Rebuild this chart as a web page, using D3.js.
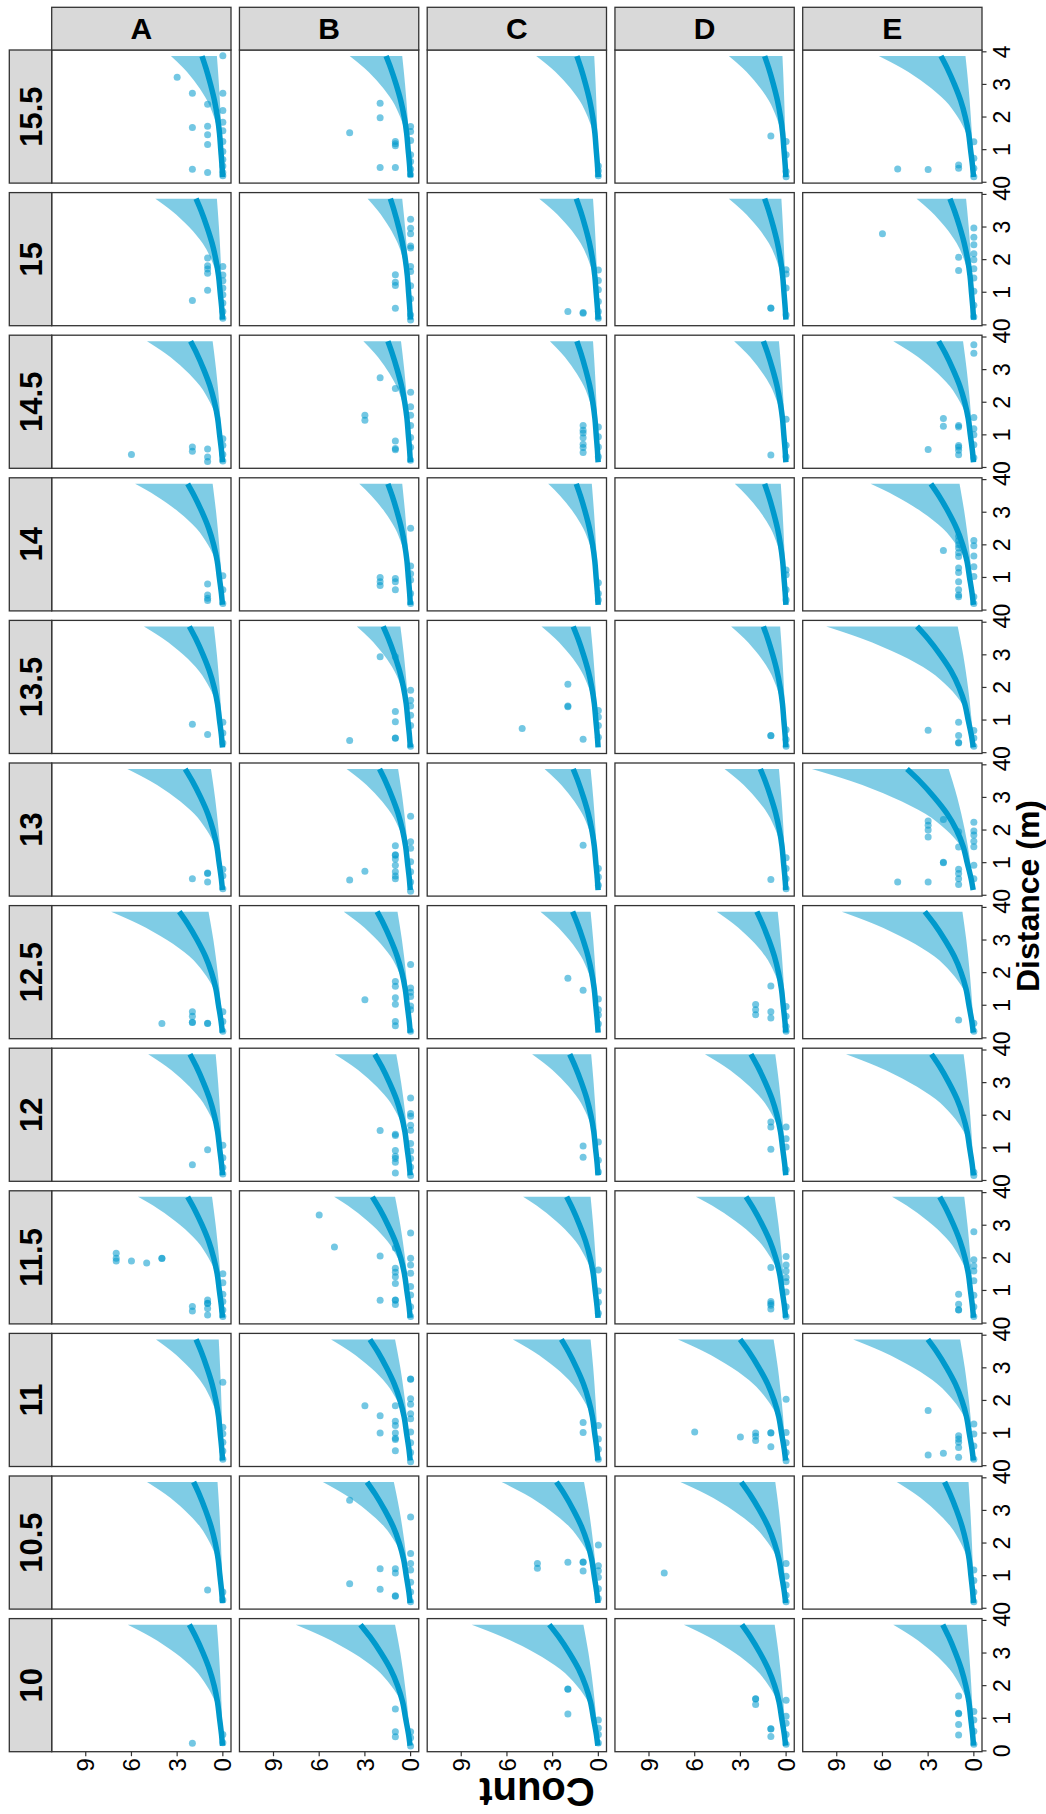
<!DOCTYPE html>
<html>
<head>
<meta charset="utf-8">
<script src="https://cdn.jsdelivr.net/npm/d3@7"></script>
<style>
  body { margin: 0; background: #fff; }
  svg { display: block; }
  text { font-family: "Liberation Sans", Arial, Helvetica, sans-serif; fill: #000; }
</style>
</head>
<body>
<div id="chart"></div>
<script>
// facet labels
const distFacets = ["10", "10.5", "11", "11.5", "12", "12.5", "13", "13.5", "14", "14.5", "15", "15.5"];
const groups = ["A", "B", "C", "D", "E"];
const countTicks = [0, 3, 6, 9];
const distTicks = [0, 1, 2, 3, 4];

// relative shape of the smooth and its band (fraction of value at max distance)
const shapeDist = [0.16, 0.5, 1, 1.5, 2, 2.5, 3, 3.5, 3.87];
const fitRel = [0.01, 0.04, 0.10, 0.16, 0.26, 0.40, 0.59, 0.81, 1];
const lowRel = [0.01, 0.05, 0.14, 0.24, 0.36, 0.50, 0.66, 0.85, 1];
const highRel = [0.002, 0.01, 0.035, 0.08, 0.17, 0.30, 0.50, 0.76, 1];

// fitted value / lower / upper CI at max distance, rows = groups, cols = distFacets
const fitEnd = [
  [2.2, 1.92, 1.76, 2.31, 2.16, 2.86, 2.47, 2.2, 2.31, 2.12, 1.76, 1.37],
  [3.29, 2.86, 2.67, 2.51, 2.35, 2.2, 2.04, 1.8, 1.49, 1.49, 1.33, 1.61],
  [3.22, 2.75, 2.43, 2.08, 1.88, 1.69, 1.65, 1.65, 1.45, 1.41, 1.45, 1.41],
  [2.9, 2.94, 3.02, 2.63, 2.31, 1.92, 1.69, 1.49, 1.41, 1.49, 1.41, 1.41],
  [2.04, 1.92, 3.02, 2.24, 2.78, 3.22, 4.39, 3.73, 2.82, 2.31, 1.57, 2.16]
];
const lowEnd = [
  [0.39, 0.35, 0.27, 0.71, 0.47, 0.94, 0.78, 0.59, 0.67, 0.67, 0.39, 0.39],
  [1.02, 1.1, 1.02, 1.02, 0.94, 0.86, 0.82, 0.67, 0.55, 0.63, 0.55, 0.55],
  [0.98, 0.94, 0.51, 0.51, 0.47, 0.51, 0.51, 0.51, 0.43, 0.35, 0.35, 0.27],
  [0.75, 0.71, 0.82, 0.75, 0.71, 0.55, 0.47, 0.39, 0.35, 0.47, 0.31, 0.24],
  [0.47, 0.35, 0.9, 0.63, 0.67, 0.75, 1.65, 1.06, 0.94, 0.71, 0.51, 0.55]
];
const highEnd = [
  [6.24, 4.98, 4.39, 5.57, 4.9, 7.33, 6.27, 5.18, 5.76, 4.98, 4.43, 3.41],
  [7.53, 5.76, 5.22, 5.02, 4.98, 4.39, 4.2, 3.53, 3.37, 3.1, 2.82, 4.0],
  [8.31, 6.35, 5.61, 4.94, 4.35, 3.8, 3.53, 3.73, 3.29, 3.18, 3.88, 4.08],
  [6.71, 6.94, 7.1, 5.92, 5.33, 4.55, 4.04, 3.61, 3.37, 3.41, 3.76, 3.76],
  [5.29, 5.06, 7.92, 5.37, 8.39, 8.67, 10.63, 9.69, 6.78, 5.29, 3.76, 6.24]
];

// observations [distance, count], one list per distFacet
const obsA = [
  [[0.23,2],[0.5,0],[0.25,0]],
  [[0.56,1],[0.5,0],[0.25,0]],
  [[2.56,0],[1.18,0],[0.98,0],[0.72,0],[0.45,0],[0.2,0]],
  [[2.14,7],[1.99,7],[1.9,7],[1.9,6],[1.84,5],[1.98,4],[1.99,4],[1.51,0],[1.24,0],[0.88,0],[0.66,0],[0.51,2],[0.37,2],[0.71,1],[0.6,1],[0.61,1],[0.45,1],[0.25,1],[0.4,0],[0.2,0]],
  [[0.94,1],[0.48,2],[1.08,0],[0.7,0],[0.4,0],[0.2,0]],
  [[0.44,4],[0.8,2],[0.66,2],[0.47,2],[0.48,2],[0.44,1],[0.45,1],[0.8,0],[0.5,0],[0.2,0]],
  [[0.51,2],[0.67,1],[0.68,1],[0.41,1],[0.8,0],[0.6,0],[0.2,0]],
  [[0.87,2],[0.56,1],[0.93,0],[0.6,0],[0.3,0]],
  [[0.8,1],[0.46,1],[0.36,1],[0.29,1],[1.05,0],[0.62,0],[0.2,0]],
  [[0.4,6],[0.63,2],[0.5,2],[0.57,1],[0.32,1],[0.18,1],[0.88,0],[0.68,0],[0.4,0],[0.2,0]],
  [[2.05,1],[1.81,1],[1.71,1],[1.58,1],[1.79,0],[1.53,0],[1.35,0],[1.13,0],[1.06,1],[0.92,0],[0.75,2],[0.67,0],[0.41,0],[0.2,0]],
  [[3.88,0],[3.22,3],[2.73,2],[2.73,0],[2.39,1],[2.2,0],[1.84,0],[1.68,2],[1.72,1],[1.58,0],[1.46,1],[1.25,0],[1.16,1],[0.94,0],[0.7,0],[0.5,0],[0.4,2],[0.3,1],[0.3,0],[0.2,0]]
];
const obsB = [
  [[1.28,1],[0.59,1],[0.43,1],[0.59,0],[0.4,0],[0.15,0]],
  [[3.31,4],[2.8,0],[1.68,0],[1.37,0],[1.21,2],[1.21,1],[1.08,1],[0.75,4],[0.58,2],[0.37,1],[0.38,1],[1.17,0],[0.8,0],[0.5,0],[0.2,0]],
  [[2.65,0],[2.66,0],[1.84,3],[1.53,2],[1.84,1],[2.05,0],[1.88,0],[1.59,0],[1.44,0],[1.36,1],[1.23,1],[1.0,2],[1.0,1],[0.84,1],[0.8,1],[0.46,1],[1.03,0],[0.7,0],[0.4,0],[0.12,0]],
  [[3.31,6],[2.33,5],[2.06,2],[2.3,1],[2.76,0],[1.99,0],[1.78,0],[1.53,0],[1.68,1],[1.56,1],[1.42,1],[1.21,1],[1.12,0],[0.86,0],[0.7,2],[0.7,1],[0.71,1],[0.57,1],[0.5,0],[0.2,0]],
  [[2.53,0],[2.05,0],[1.97,0],[1.69,0],[1.54,0],[1.53,2],[1.42,1],[1.38,1],[1.13,0],[0.9,0],[0.92,1],[0.74,1],[0.67,1],[0.56,1],[0.23,1],[0.67,0],[0.41,0],[0.15,0]],
  [[2.25,0],[1.73,1],[1.58,1],[1.17,3],[1.23,1],[1.03,1],[1.53,0],[1.4,0],[1.27,0],[0.98,0],[0.86,0],[0.5,1],[0.37,1],[0.2,0]],
  [[2.42,0],[1.52,1],[1.64,0],[1.44,0],[1.23,1],[1.24,1],[1.11,1],[0.92,1],[0.72,1],[0.59,1],[0.51,1],[0.74,3],[0.47,4],[1.03,0],[0.72,0],[0.41,0],[0.12,0]],
  [[2.94,2],[2.94,1],[1.91,0],[1.61,0],[1.43,0],[1.26,1],[0.95,1],[1.15,0],[0.83,0],[0.37,4],[0.44,1],[0.45,1],[0.2,0]],
  [[2.51,0],[1.35,0],[1.11,0],[0.92,0],[1.0,2],[0.87,2],[0.75,2],[0.97,1],[0.87,1],[0.62,1],[0.51,0],[0.2,0]],
  [[2.75,2],[2.42,1],[2.31,0],[1.86,0],[1.6,0],[1.6,3],[1.45,3],[1.29,0],[0.81,1],[0.58,1],[0.54,1],[0.92,0],[0.62,0],[0.22,0]],
  [[3.24,0],[2.96,0],[2.79,0],[2.42,0],[2.36,0],[1.79,0],[1.64,0],[1.54,1],[1.31,1],[1.21,1],[1.2,0],[0.51,1],[0.8,0],[0.3,0],[0.15,0]],
  [[2.42,2],[1.98,2],[1.52,4],[1.25,1],[1.18,1],[1.12,1],[1.71,0],[1.56,0],[1.28,0],[0.84,0],[0.64,0],[0.45,2],[0.45,1],[0.23,0],[0.4,0]]
];
const obsC = [
  [[1.89,2],[1.9,2],[1.13,2],[0.95,0],[0.7,0],[0.5,0],[0.24,0]],
  [[1.37,4],[1.23,4],[1.41,2],[1.41,1],[1.42,1],[1.14,1],[1.94,0],[1.3,0],[1.15,0],[0.95,0],[0.6,0],[0.3,0]],
  [[1.32,1],[1.02,1],[1.23,0],[0.82,0],[0.5,0],[0.2,0]],
  [[1.63,0],[0.98,0],[0.64,0],[0.3,0]],
  [[1.06,1],[0.71,1],[1.18,0],[0.62,0],[0.26,0]],
  [[1.83,2],[1.46,1],[1.19,0],[0.86,0],[0.7,0],[0.43,0]],
  [[1.53,1],[0.82,0],[0.56,0],[0.31,0]],
  [[2.1,2],[1.43,2],[1.41,2],[0.74,5],[0.41,1],[1.29,0],[1.09,0],[0.83,0],[0.47,0]],
  [[0.84,0],[0.51,0],[0.31,0]],
  [[1.29,1],[1.14,1],[1.06,1],[0.91,1],[0.71,1],[0.61,1],[0.46,1],[1.24,0],[0.94,0],[0.63,0],[0.33,0]],
  [[1.68,0],[1.36,0],[1.08,0],[0.72,0],[0.41,0],[0.41,2],[0.36,1],[0.38,1],[0.2,0]],
  [[0.5,0],[0.35,0],[0.2,0]]
];
const obsD = [
  [[1.59,2],[1.6,2],[1.42,2],[0.67,1],[0.68,1],[0.44,1],[1.55,0],[1.06,0],[0.85,0],[0.5,0],[0.2,0]],
  [[1.08,8],[1.37,0],[0.98,0],[0.71,0],[0.4,0],[0.2,0]],
  [[2.04,0],[1.03,6],[0.88,3],[1.0,2],[0.9,2],[0.77,2],[1.0,1],[1.01,1],[0.58,1],[1.02,0],[0.7,0],[0.4,0],[0.15,0]],
  [[2.04,0],[1.7,1],[1.78,0],[1.6,0],[1.4,0],[1.27,0],[0.66,1],[0.6,1],[0.55,1],[0.43,1],[0.95,0],[0.5,0],[0.2,0]],
  [[1.79,1],[1.64,1],[1.64,0],[1.28,0],[1.03,0],[0.96,1],[0.33,0]],
  [[1.59,1],[1.02,2],[0.86,2],[0.71,2],[0.8,1],[0.61,1],[0.96,0],[0.66,0],[0.35,0],[0.2,0]],
  [[0.48,1],[1.15,0],[0.82,0],[0.51,0],[0.2,0]],
  [[0.52,1],[0.53,1],[0.7,0],[0.4,0],[0.2,0]],
  [[1.23,0],[1.08,0],[0.62,0],[0.31,0]],
  [[1.48,0],[0.38,1],[0.68,0],[0.33,0]],
  [[1.69,0],[1.56,0],[1.13,0],[0.51,1],[0.52,1],[0.3,0]],
  [[1.42,1],[1.25,0],[0.84,0],[0.33,0],[0.17,0]]
];
const obsE = [
  [[1.68,1],[1.14,1],[1.15,1],[0.81,1],[0.49,1],[1.21,0],[0.95,0],[0.6,0],[0.2,0]],
  [[1.17,0],[0.85,0],[0.5,0],[0.2,0]],
  [[1.69,3],[0.92,1],[0.82,1],[0.72,1],[0.56,1],[0.38,2],[0.33,3],[0.26,1],[1.28,0],[0.97,0],[0.6,0],[0.2,0]],
  [[2.8,0],[1.94,0],[1.75,0],[1.6,0],[1.3,0],[0.88,1],[0.58,1],[0.4,1],[0.41,1],[0.85,0],[0.5,0],[0.2,0]],
  [[0.25,0],[0.15,0]],
  [[0.55,1],[0.45,0],[0.2,0]],
  [[2.28,3],[2.15,3],[2.0,3],[1.79,3],[2.32,2],[1.95,1],[1.48,1],[2.24,0],[1.97,0],[1.85,0],[1.66,0],[1.49,0],[1.0,2],[1.01,2],[0.8,1],[0.67,1],[0.51,1],[0.33,1],[0.92,0],[0.51,0],[0.41,5],[0.41,3]],
  [[0.69,3],[0.93,1],[0.53,1],[0.3,1],[0.31,1],[0.68,0],[0.45,0],[0.2,0]],
  [[1.83,2],[2.26,1],[2.13,1],[2.0,1],[1.9,1],[1.76,1],[1.64,1],[2.13,0],[1.97,0],[1.66,0],[1.33,0],[1.03,0],[1.29,1],[1.15,1],[0.87,1],[0.62,1],[0.46,1],[0.41,1],[0.41,0],[0.2,0]],
  [[1.5,2],[1.26,2],[1.29,1],[1.24,1],[1.53,0],[1.19,0],[0.55,3],[0.67,1],[0.62,1],[0.53,1],[0.39,1],[3.76,0],[3.5,0],[1.0,0],[0.7,0],[0.3,0]],
  [[2.79,6],[2.97,0],[2.69,0],[2.46,0],[2.18,0],[2.07,1],[2.0,0],[1.67,1],[1.72,0],[1.44,0],[1.03,0],[0.6,0],[0.25,0]],
  [[0.41,5],[0.39,3],[0.53,1],[0.43,1],[1.24,0],[0.74,0],[0.43,0],[0.17,0]]
];
const obsByGroup = [obsA, obsB, obsC, obsD, obsE];

/* -----------------------------
   layout, drawn in the unrotated
   frame then turned 90deg
-------------------------------- */
const W = 1814, H = 1046;
const panelX0 = 62.3, panelW = 133.1, gapX = 9.5;
const panelY0 = 51.7, panelH = 179.3, gapY = 8.45;
const stripH = 42.4, stripW = 42.7;
const blue = "#0099cc";
const frame = "#333333";

const svg = d3.select("#chart")
  .append("svg")
  .attr("width", H)
  .attr("height", W);

svg.append("rect").attr("width", H).attr("height", W).attr("fill", "#fff");

const root = svg.append("g")
  .attr("transform", `translate(0,${W}) rotate(-90)`);

const x = d3.scaleLinear().domain([-0.0255, 4.0555]).range([0, panelW]);
const y = d3.scaleLinear().domain([-0.535, 11.235]).range([panelH, 0]);

const line = d3.line()
  .x(d => x(d[0]))
  .y(d => y(d[1]))
  .curve(d3.curveMonotoneX);

const area = d3.area()
  .x(d => x(d[0]))
  .y0(d => y(d[1]))
  .y1(d => y(d[2]))
  .curve(d3.curveMonotoneX);

const colX = fi => panelX0 + fi * (panelW + gapX);
const rowY = gi => panelY0 + gi * (panelH + gapY);
const bottomY = rowY(groups.length - 1) + panelH;
const rightX = colX(distFacets.length - 1) + panelW;

groups.forEach((g, gi) => {
  distFacets.forEach((f, fi) => {
    const p = root.append("g")
      .attr("transform", `translate(${colX(fi)},${rowY(gi)})`);

    p.append("rect")
      .attr("width", panelW)
      .attr("height", panelH)
      .attr("fill", "#fff");

    const band = shapeDist.map((d, i) => [d, lowRel[i] * lowEnd[gi][fi], highRel[i] * highEnd[gi][fi]]);
    const fit = shapeDist.map((d, i) => [d, fitRel[i] * fitEnd[gi][fi]]);

    p.append("path")
      .attr("d", area(band))
      .attr("fill", blue)
      .attr("fill-opacity", 0.5);

    p.append("path")
      .attr("d", line(fit))
      .attr("fill", "none")
      .attr("stroke", blue)
      .attr("stroke-width", 5.5);

    p.selectAll("circle")
      .data(obsByGroup[gi][fi])
      .enter()
      .append("circle")
      .attr("cx", d => x(d[0]))
      .attr("cy", d => y(d[1]))
      .attr("r", 3.5)
      .attr("fill", blue)
      .attr("fill-opacity", 0.55);

    p.append("rect")
      .attr("width", panelW)
      .attr("height", panelH)
      .attr("fill", "none")
      .attr("stroke", frame)
      .attr("stroke-width", 1.3);
  });
});

// strips on top (distance facets)
distFacets.forEach((f, fi) => {
  root.append("rect")
    .attr("x", colX(fi))
    .attr("y", panelY0 - stripH)
    .attr("width", panelW)
    .attr("height", stripH)
    .attr("fill", "#d9d9d9")
    .attr("stroke", frame)
    .attr("stroke-width", 1.3);
  root.append("text")
    .attr("x", colX(fi) + panelW / 2)
    .attr("y", panelY0 - stripH / 2)
    .attr("dy", "0.36em")
    .attr("text-anchor", "middle")
    .style("font-size", "31px")
    .style("font-weight", "bold")
    .text(f);
});

// strips on the right (groups)
groups.forEach((g, gi) => {
  root.append("rect")
    .attr("x", rightX)
    .attr("y", rowY(gi))
    .attr("width", stripW)
    .attr("height", panelH)
    .attr("fill", "#d9d9d9")
    .attr("stroke", frame)
    .attr("stroke-width", 1.3);
  root.append("text")
    .attr("transform", `translate(${rightX + stripW / 2},${rowY(gi) + panelH / 2}) rotate(90)`)
    .attr("dy", "0.36em")
    .attr("text-anchor", "middle")
    .style("font-size", "30px")
    .style("font-weight", "bold")
    .text(g);
});

// count axis on the left of each group row
groups.forEach((g, gi) => {
  const ax = root.append("g");
  countTicks.forEach(t => {
    const ty = rowY(gi) + y(t);
    ax.append("line")
      .attr("x1", panelX0 - 4.5).attr("x2", panelX0)
      .attr("y1", ty).attr("y2", ty)
      .attr("stroke", frame).attr("stroke-width", 1.2);
    ax.append("text")
      .attr("x", panelX0 - 6.5)
      .attr("y", ty)
      .attr("dy", "0.36em")
      .attr("text-anchor", "end")
      .style("font-size", "24px")
      .text(t);
  });
});

// distance axis under each facet column
distFacets.forEach((f, fi) => {
  const ax = root.append("g");
  distTicks.forEach(t => {
    const tx = colX(fi) + x(t);
    ax.append("line")
      .attr("x1", tx).attr("x2", tx)
      .attr("y1", bottomY).attr("y2", bottomY + 4.5)
      .attr("stroke", frame).attr("stroke-width", 1.2);
    ax.append("text")
      .attr("x", tx)
      .attr("y", bottomY + 27.5)
      .attr("text-anchor", "middle")
      .style("font-size", "23px")
      .text(t);
  });
});

// axis titles
root.append("text")
  .attr("x", 918)
  .attr("y", 1039)
  .attr("text-anchor", "middle")
  .style("font-size", "32px")
  .style("font-weight", "bold")
  .text("Distance (m)");

root.append("text")
  .attr("transform", `translate(36,537) rotate(-90)`)
  .attr("text-anchor", "middle")
  .style("font-size", "40px")
  .style("font-weight", "bold")
  .text("Count");
</script>
</body>
</html>
